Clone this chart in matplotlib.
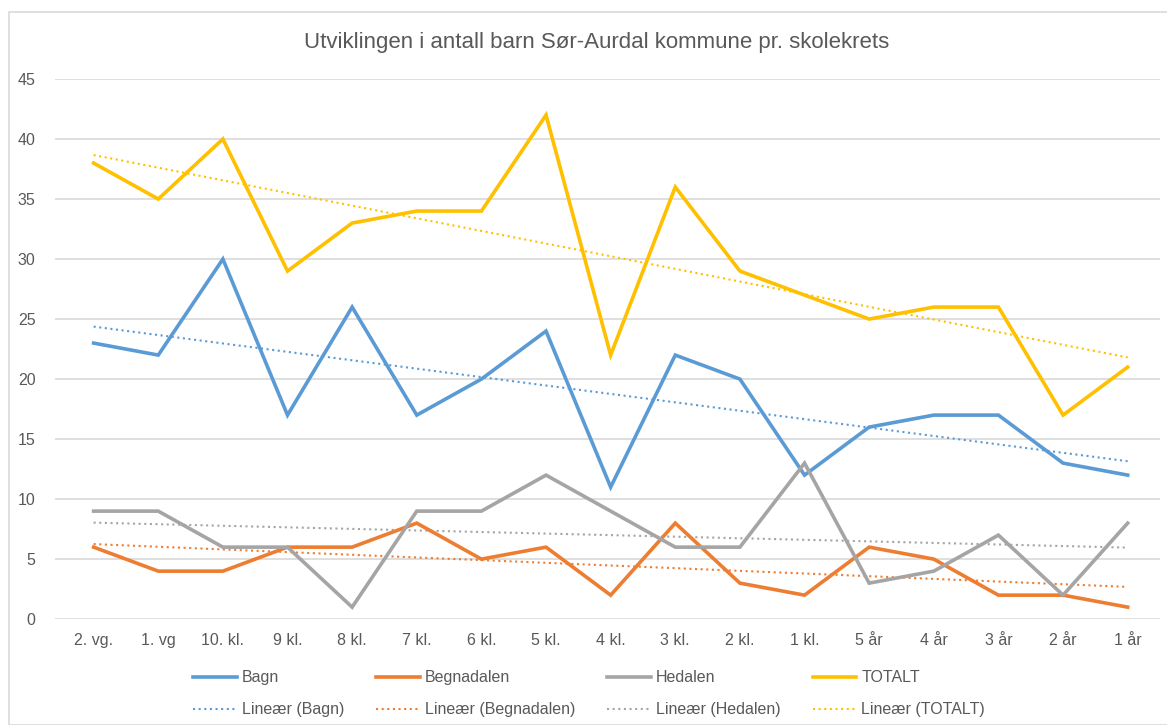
import numpy as np
import matplotlib
matplotlib.use("Agg")
import matplotlib.pyplot as plt
from matplotlib import font_manager

# data
categories = ["2. vg.", "1. vg", "10. kl.", "9 kl.", "8 kl.", "7 kl.", "6 kl.", "5 kl.",
              "4 kl.", "3 kl.", "2 kl.", "1 kl.", "5 år", "4 år", "3 år", "2 år", "1 år"]
bagn = [23, 22, 30, 17, 26, 17, 20, 24, 11, 22, 20, 12, 16, 17, 17, 13, 12]
begnadalen = [6, 4, 4, 6, 6, 8, 5, 6, 2, 8, 3, 2, 6, 5, 2, 2, 1]
hedalen = [9, 9, 6, 6, 1, 9, 9, 12, 9, 6, 6, 13, 3, 4, 7, 2, 8]
totalt = [38, 35, 40, 29, 33, 34, 34, 42, 22, 36, 29, 27, 25, 26, 26, 17, 21]

series_names = ["Bagn", "Begnadalen", "Hedalen", "TOTALT"]
colors = ["#5B9BD5", "#ED7D31", "#A5A5A5", "#FFC000"]

available = {f.name for f in font_manager.fontManager.ttflist}
fam = [f for f in ["Liberation Sans Narrow", "Liberation Sans", "DejaVu Sans"] if f in available]
plt.rcParams["font.family"] = fam
text_col = "#595959"

fig = plt.figure(figsize=(11.67, 7.25), dpi=100)
ax = fig.add_axes([0.047, 0.146, 0.947, 0.745])

# chart border
fig.patches.append(plt.Rectangle((9 / 1167, 0.0), 1.2, 1 - 12 / 725, transform=fig.transFigure,
                                 fill=False, edgecolor="#D9D9D9", linewidth=1.2))

x = np.arange(len(categories))
handles = []
for name, vals, c in zip(series_names, [bagn, begnadalen, hedalen, totalt], colors):
    l, = ax.plot(x, vals, color=c, linewidth=2.6, solid_joinstyle="miter", label=name, zorder=3)
    # linear trend like Excel (x = 1..n)
    k, m = np.polyfit(x + 1, vals, 1)
    t, = ax.plot(x, k * (x + 1) + m, color=c, linewidth=1.5, linestyle=(0, (1, 1.7)),
                 dash_capstyle="butt", label="Lineær (%s)" % name, zorder=2)
    handles += [l, t]

ax.set_ylim(0, 45)
ax.set_yticks(range(0, 46, 5))
ax.set_xlim(-0.6, 16.5)
ax.set_xticks(x)
ax.set_xticklabels(categories)
ax.grid(axis="y", color="#D9D9D9", linewidth=1.2)
ax.set_axisbelow(True)
for s in ax.spines.values():
    s.set_visible(False)
ax.tick_params(length=0, labelsize=11.5, colors=text_col, pad=10)
ax.tick_params(axis="y", pad=14)

fig.text(0.511, 0.942, "Utviklingen i antall barn Sør-Aurdal kommune pr. skolekrets",
         ha="center", va="center", fontsize=16, color=text_col)

leg = fig.legend(handles, [h.get_label() for h in handles], ncol=4,
                 loc="center", bbox_to_anchor=(0.505, 0.043), frameon=False, fontsize=11.5,
                 handlelength=2.7, handletextpad=0.35, columnspacing=2.0, labelspacing=1.05)
for t in leg.get_texts():
    t.set_color(text_col)

fig.savefig("out.png", dpi=100)
